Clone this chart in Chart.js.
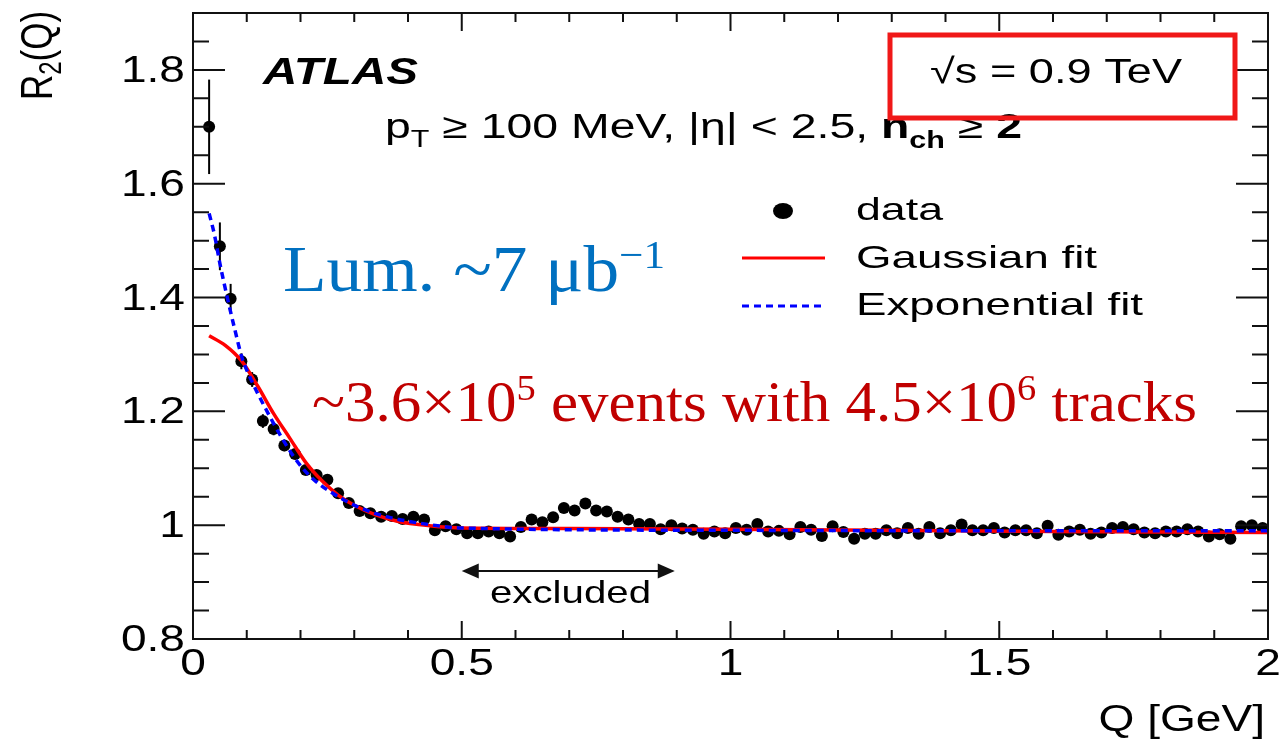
<!DOCTYPE html>
<html>
<head>
<meta charset="utf-8">
<title>ATLAS R2(Q) at 0.9 TeV</title>
<script src="https://cdn.jsdelivr.net/npm/chart.js@4.4.1/dist/chart.umd.min.js"></script>
<style>
  html, body { margin: 0; padding: 0; background: #fff; }
  #container { width: 1282px; height: 748px; position: relative; }
</style>
</head>
<body>
<div id="container"><canvas id="canvas"></canvas></div>
<script>
// bin centres in Q [GeV]
const qBins = [
  0.03, 0.05, 0.07, 0.09, 0.11, 0.13, 0.15, 0.17, 0.19, 0.21,
  0.23, 0.25, 0.27, 0.29, 0.31, 0.33, 0.35, 0.37, 0.39, 0.41,
  0.43, 0.45, 0.47, 0.49, 0.51, 0.53, 0.55, 0.57, 0.59, 0.61,
  0.63, 0.65, 0.67, 0.69, 0.71, 0.73, 0.75, 0.77, 0.79, 0.81,
  0.83, 0.85, 0.87, 0.89, 0.91, 0.93, 0.95, 0.97, 0.99, 1.01,
  1.03, 1.05, 1.07, 1.09, 1.11, 1.13, 1.15, 1.17, 1.19, 1.21,
  1.23, 1.25, 1.27, 1.29, 1.31, 1.33, 1.35, 1.37, 1.39, 1.41,
  1.43, 1.45, 1.47, 1.49, 1.51, 1.53, 1.55, 1.57, 1.59, 1.61,
  1.63, 1.65, 1.67, 1.69, 1.71, 1.73, 1.75, 1.77, 1.79, 1.81,
  1.83, 1.85, 1.87, 1.89, 1.91, 1.93, 1.95, 1.97, 1.99
];
const r2Data = [
  1.700, 1.490, 1.398, 1.288, 1.256, 1.183, 1.169, 1.140, 1.125, 1.097,
  1.088, 1.080, 1.056, 1.039, 1.025, 1.021, 1.015, 1.016, 1.011, 1.015,
  1.010, 0.991, 0.998, 0.993, 0.986, 0.986, 0.989, 0.986, 0.980, 0.997,
  1.010, 1.005, 1.014, 1.030, 1.026, 1.038, 1.026, 1.024, 1.015, 1.010,
  1.002, 1.002, 0.993, 1.000, 0.994, 0.992, 0.985, 0.989, 0.986, 0.995,
  0.992, 1.002, 0.989, 0.990, 0.984, 0.997, 0.992, 0.981, 0.998, 0.988,
  0.976, 0.985, 0.985, 0.991, 0.986, 0.995, 0.985, 0.997, 0.986, 0.991,
  1.001, 0.991, 0.991, 0.995, 0.987, 0.991, 0.991, 0.986, 0.999, 0.983,
  0.989, 0.992, 0.985, 0.987, 0.995, 0.997, 0.993, 0.987, 0.986, 0.989,
  0.989, 0.993, 0.989, 0.980, 0.984, 0.976, 0.998, 1.000, 0.995
];
const r2Err = [
  0.083, 0.042, 0.026, 0.014, 0.013, 0.012, 0.011, 0.010, 0.009, 0.008,
  0.008, 0.007, 0.007, 0.006, 0.006, 0.006, 0.006, 0.005, 0.005, 0.005,
  0.005, 0.005, 0.005, 0.005, 0.005, 0.005, 0.005, 0.005, 0.005, 0.005,
  0.005, 0.005, 0.005, 0.005, 0.005, 0.005, 0.005, 0.005, 0.005, 0.005,
  0.005, 0.005, 0.005, 0.005, 0.005, 0.005, 0.005, 0.005, 0.005, 0.005,
  0.005, 0.005, 0.005, 0.005, 0.005, 0.005, 0.005, 0.005, 0.005, 0.005,
  0.005, 0.005, 0.005, 0.005, 0.005, 0.005, 0.005, 0.005, 0.005, 0.005,
  0.005, 0.005, 0.005, 0.005, 0.005, 0.005, 0.005, 0.005, 0.005, 0.005,
  0.005, 0.005, 0.005, 0.005, 0.005, 0.005, 0.005, 0.005, 0.005, 0.005,
  0.005, 0.005, 0.005, 0.005, 0.005, 0.005, 0.005, 0.005, 0.005
];

// fit curves
const gaussQ  = [0.03, 0.06, 0.09, 0.12, 0.15, 0.18, 0.21, 0.24, 0.27, 0.30, 0.34, 0.38, 0.44, 0.50, 0.70, 1.00, 1.30, 1.60, 2.00];
const gaussR2 = [1.333, 1.316, 1.289, 1.245, 1.196, 1.153, 1.110, 1.078, 1.053, 1.035, 1.018, 1.007, 0.999, 0.995, 0.994, 0.993, 0.991, 0.989, 0.987];
const expoQ   = [0.03, 0.04, 0.05, 0.065, 0.078, 0.091, 0.11, 0.135, 0.16, 0.19, 0.22, 0.26, 0.31, 0.36, 0.44, 0.50, 1.00, 1.50, 2.00];
const expoR2  = [1.548, 1.510, 1.460, 1.395, 1.343, 1.295, 1.252, 1.205, 1.162, 1.117, 1.084, 1.056, 1.031, 1.015, 1.001, 0.995, 0.991, 0.990, 0.990];

const xTickLabels = [0, 0.5, 1, 1.5, 2];
const yTickLabels = [0.8, 1, 1.2, 1.4, 1.6, 1.8];
const excludedRange = [0.5, 0.9];

const SANS = '"Liberation Sans", Arial, sans-serif';
const SERIF = '"Liberation Serif", "Times New Roman", serif';
const SX = 1.28; // the original figure is stretched sideways

// draw a run of text pieces [text, font, dy]; optional fixed width
function drawText(ctx, segs, x, y, opt) {
  opt = opt || {};
  ctx.save();
  let w = 0;
  segs.forEach(s => { ctx.font = s[1]; w += ctx.measureText(s[0]).width; });
  const sx = opt.width ? opt.width / w : (opt.sx || 1);
  let x0 = x;
  if (opt.align === 'right') x0 = x - w * sx;
  if (opt.align === 'center') x0 = x - w * sx / 2;
  ctx.translate(x0, y);
  ctx.scale(sx, 1);
  ctx.fillStyle = opt.color || '#000';
  ctx.textAlign = 'left';
  ctx.textBaseline = 'alphabetic';
  let cx = 0;
  segs.forEach(s => {
    ctx.font = s[1];
    ctx.fillText(s[0], cx, s[2] || 0);
    cx += ctx.measureText(s[0]).width;
  });
  ctx.restore();
}

function isMultiple(v, step) {
  return Math.abs(v / step - Math.round(v / step)) < 1e-6;
}

const errorBars = {
  id: 'errorBars',
  beforeDatasetsDraw(chart) {
    const {ctx, scales: {x, y}} = chart;
    ctx.save();
    ctx.strokeStyle = '#000';
    ctx.lineWidth = 2;
    qBins.forEach((q, i) => {
      const px = x.getPixelForValue(q);
      ctx.beginPath();
      ctx.moveTo(px, y.getPixelForValue(r2Data[i] - r2Err[i]));
      ctx.lineTo(px, y.getPixelForValue(r2Data[i] + r2Err[i]));
      ctx.stroke();
    });
    ctx.restore();
  }
};

const frameAndText = {
  id: 'frameAndText',
  afterDraw(chart) {
    const {ctx, chartArea: a, scales: {x, y}} = chart;
    ctx.save();
    ctx.strokeStyle = '#111';
    ctx.lineWidth = 2;
    ctx.strokeRect(a.left, a.top, a.right - a.left, a.bottom - a.top);

    // inward ticks, ROOT style
    ctx.beginPath();
    x.ticks.forEach(t => {
      const px = x.getPixelForValue(t.value);
      const len = isMultiple(t.value, 0.5) ? 18 : 9;
      ctx.moveTo(px, a.bottom); ctx.lineTo(px, a.bottom - len);
      ctx.moveTo(px, a.top); ctx.lineTo(px, a.top + len);
    });
    y.ticks.forEach(t => {
      const py = y.getPixelForValue(t.value);
      const len = isMultiple(t.value, 0.2) ? 32 : 16;
      ctx.moveTo(a.left, py); ctx.lineTo(a.left + len, py);
      ctx.moveTo(a.right, py); ctx.lineTo(a.right - len, py);
    });
    ctx.stroke();
    ctx.restore();

    // tick labels
    const tickFont = '36px ' + SANS;
    yTickLabels.forEach(v => {
      drawText(ctx, [[String(v), tickFont]], a.left - 8, y.getPixelForValue(v) + 12, {align: 'right', sx: SX});
    });
    xTickLabels.forEach(v => {
      drawText(ctx, [[String(v), tickFont]], x.getPixelForValue(v), a.bottom + 36, {align: 'center', sx: SX});
    });

    // axis titles
    drawText(ctx, [['Q [GeV]', tickFont]], 1265, 731, {align: 'right', sx: SX});
    ctx.save();
    ctx.translate(52, 100);
    ctx.rotate(-Math.PI / 2);
    ctx.scale(1, SX);
    drawText(ctx, [['R', '35px ' + SANS], ['2', '24px ' + SANS, 7], ['(Q)', '35px ' + SANS]], 0, 0, {});
    ctx.restore();

    // labels
    drawText(ctx, [['ATLAS', 'italic bold 36px ' + SANS]], 263, 84, {width: 155});
    drawText(ctx, [
      ['p', '35px ' + SANS],
      ['T', '23px ' + SANS, 9],
      [' \u2265 100 MeV, |\u03b7| < 2.5, ', '35px ' + SANS],
      ['n', 'bold 35px ' + SANS],
      ['ch', 'bold 23px ' + SANS, 10],
      [' \u2265 ', '35px ' + SANS],
      ['2', 'bold 35px ' + SANS]
    ], 385, 138, {width: 637});
    drawText(ctx, [['\u221As = 0.9 TeV', '35px ' + SANS]], 930, 83, {width: 252});

    ctx.save();
    ctx.strokeStyle = 'rgb(240,24,24)';
    ctx.lineWidth = 5;
    ctx.strokeRect(890, 35, 345, 83);
    ctx.restore();

    // legend
    ctx.save();
    ctx.fillStyle = '#000';
    ctx.beginPath();
    ctx.ellipse(783, 211, 10, 8, 0, 0, Math.PI * 2);
    ctx.fill();
    ctx.lineWidth = 3;
    ctx.strokeStyle = '#ff0000';
    ctx.beginPath(); ctx.moveTo(742, 258); ctx.lineTo(825, 258); ctx.stroke();
    ctx.strokeStyle = '#0000ff';
    ctx.setLineDash([7, 5]);
    ctx.beginPath(); ctx.moveTo(742, 306); ctx.lineTo(822, 306); ctx.stroke();
    ctx.restore();
    drawText(ctx, [['data', '32px ' + SANS]], 856, 220, {width: 87});
    drawText(ctx, [['Gaussian fit', '32px ' + SANS]], 856, 268, {width: 241});
    drawText(ctx, [['Exponential fit', '32px ' + SANS]], 856, 315, {width: 287});

    // overlay notes
    drawText(ctx, [['Lum. ~7 \u03bcb', '66px ' + SERIF], ['\u22121', '40px ' + SERIF, -23]], 283, 291,
      {width: 382, color: 'rgb(0,112,192)'});
    drawText(ctx, [
      ['~3.6\u00d710', '57px ' + SERIF],
      ['5', '36px ' + SERIF, -21],
      [' events with 4.5\u00d710', '57px ' + SERIF],
      ['6', '36px ' + SERIF, -21],
      [' tracks', '57px ' + SERIF]
    ], 312, 421, {width: 885, color: 'rgb(192,0,0)'});

    // excluded region arrow
    const xl = x.getPixelForValue(excludedRange[0]);
    const xr = x.getPixelForValue(excludedRange[1]) - 2;
    const ya = 571;
    ctx.save();
    ctx.strokeStyle = '#111';
    ctx.fillStyle = '#111';
    ctx.lineWidth = 2;
    ctx.beginPath(); ctx.moveTo(xl + 10, ya); ctx.lineTo(xr - 10, ya); ctx.stroke();
    ctx.beginPath(); ctx.moveTo(xl, ya); ctx.lineTo(xl + 17, ya - 7.5); ctx.lineTo(xl + 17, ya + 7.5); ctx.closePath(); ctx.fill();
    ctx.beginPath(); ctx.moveTo(xr, ya); ctx.lineTo(xr - 17, ya - 7.5); ctx.lineTo(xr - 17, ya + 7.5); ctx.closePath(); ctx.fill();
    ctx.restore();
    drawText(ctx, [['excluded', '32px ' + SANS]], 490, 603, {width: 161});
  }
};

const ctx = document.getElementById('canvas').getContext('2d');
new Chart(ctx, {
  type: 'scatter',
  data: {
    datasets: [
      {
        label: 'Exponential fit',
        data: expoQ.map((q, i) => ({x: q, y: expoR2[i]})),
        showLine: true,
        borderColor: '#0000ff',
        borderWidth: 3.5,
        borderDash: [7, 5],
        pointRadius: 0,
        cubicInterpolationMode: 'monotone',
        order: 0
      },
      {
        label: 'Gaussian fit',
        data: gaussQ.map((q, i) => ({x: q, y: gaussR2[i]})),
        showLine: true,
        borderColor: '#ff0000',
        borderWidth: 3.5,
        pointRadius: 0,
        cubicInterpolationMode: 'monotone',
        order: 1
      },
      {
        label: 'data',
        data: qBins.map((q, i) => ({x: q, y: r2Data[i]})),
        pointRadius: 6,
        pointBackgroundColor: '#000',
        pointBorderColor: '#000',
        pointBorderWidth: 0,
        order: 2
      }
    ]
  },
  options: {
    responsive: true,
    maintainAspectRatio: false,
    animation: false,
    layout: { padding: { top: 13, right: 14, bottom: 0, left: 0 } },
    plugins: { legend: { display: false }, tooltip: { enabled: false } },
    scales: {
      x: {
        type: 'linear', min: 0, max: 2,
        ticks: { stepSize: 0.1, display: false },
        grid: { display: false }, border: { display: false },
        afterFit: s => { s.height = 109; }
      },
      y: {
        type: 'linear', min: 0.8, max: 1.9,
        ticks: { stepSize: 0.05, display: false },
        grid: { display: false }, border: { display: false },
        afterFit: s => { s.width = 193; }
      }
    }
  },
  plugins: [errorBars, frameAndText]
});
</script>
</body>
</html>
